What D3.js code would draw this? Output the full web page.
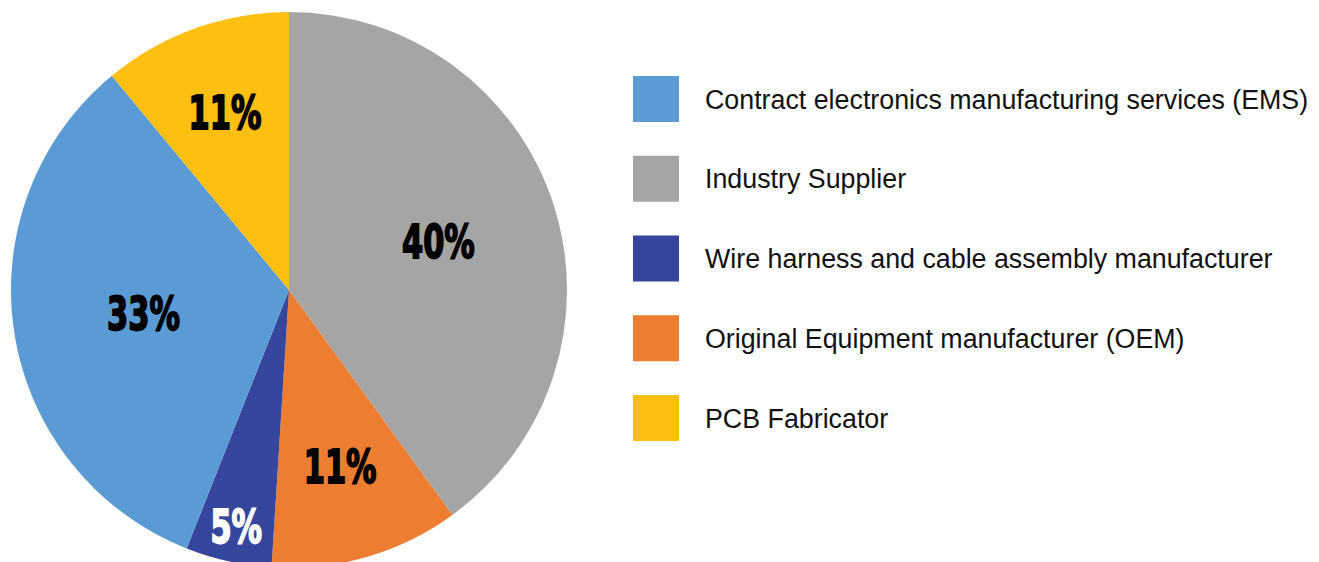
<!DOCTYPE html>
<html>
<head>
<meta charset="utf-8">
<script src="https://cdn.jsdelivr.net/npm/d3@7"></script>
<style>
  body { margin: 0; background: #ffffff; }
  svg { display: block; }
</style>
</head>
<body>
<svg id="chart" width="1319" height="562"></svg>
<script>
// data, in drawing order (clockwise from 12 o'clock)
var categories = ["Industry Supplier", "Original Equipment manufacturer (OEM)", "Wire harness and cable assembly manufacturer", "Contract electronics manufacturing services (EMS)", "PCB Fabricator"];
var values = [40, 11, 5, 33, 11];
var legendOrder = ["Contract electronics manufacturing services (EMS)", "Industry Supplier", "Wire harness and cable assembly manufacturer", "Original Equipment manufacturer (OEM)", "PCB Fabricator"];
var colors = ["#a5a5a5", "#ed7d31", "#35469c", "#5b9bd5", "#fdbf12"];

var cx = 289, cy = 290, radius = 278;
// how far out each label sits, as a fraction of the radius
var labelFrac = { "Industry Supplier": 0.565, "Original Equipment manufacturer (OEM)": 0.66,
  "Wire harness and cable assembly manufacturer": 0.87, "Contract electronics manufacturing services (EMS)": 0.53,
  "PCB Fabricator": 0.68 };

var color = d3.scaleOrdinal().domain(categories).range(colors);
var svg = d3.select('#chart');

var pie = d3.pie().sort(null).value(function(d){ return d.value; });
var rows = categories.map(function(c, i){ return { name: c, value: values[i] }; });
var arcs = pie(rows);
var arc = d3.arc().innerRadius(0).outerRadius(radius);

var g = svg.append('g').attr('transform', 'translate(' + cx + ',' + cy + ')');
g.selectAll('path')
    .data(arcs)
    .enter()
    .append('path')
    .attr('d', arc)
    .attr('fill', function(d){ return color(d.data.name); });

// condensed black labels: squeeze a bold face horizontally
g.selectAll('text')
    .data(arcs)
    .enter()
    .append('text')
    .attr('transform', function(d){
        var r = radius * labelFrac[d.data.name];
        var a = (d.startAngle + d.endAngle) / 2;
        return 'translate(' + (Math.sin(a) * r) + ',' + (-Math.cos(a) * r) + ') scale(0.72,1)';
    })
    .attr('text-anchor', 'middle')
    .attr('dy', '0.36em')
    .attr('font-family', '"DejaVu Sans Condensed", "DejaVu Sans", sans-serif')
    .attr('font-weight', 'bold')
    .attr('font-size', 47)
    .attr('fill', function(d){ return d.data.value === 5 ? '#ffffff' : '#000000'; })
    .attr('stroke', function(d){ return d.data.value === 5 ? '#ffffff' : '#000000'; })
    .attr('stroke-width', 1.8)
    .text(function(d){ return d.data.value + '%'; });

// legend
var ly = d3.scalePoint().domain(legendOrder).range([99, 418]);
var legend = svg.append('g').selectAll('g')
    .data(legendOrder)
    .enter()
    .append('g')
    .attr('transform', function(d){ return 'translate(633,' + ly(d) + ')'; });
legend.append('rect')
    .attr('x', 0).attr('y', -23)
    .attr('width', 46).attr('height', 46)
    .attr('fill', function(d){ return color(d); });
legend.append('text')
    .attr('x', 72)
    .attr('dy', '0.36em')
    .attr('font-family', '"Liberation Sans", Arial, sans-serif')
    .attr('font-size', 26.8)
    .attr('fill', '#111111')
    .text(function(d){ return d; });
</script>
</body>
</html>
